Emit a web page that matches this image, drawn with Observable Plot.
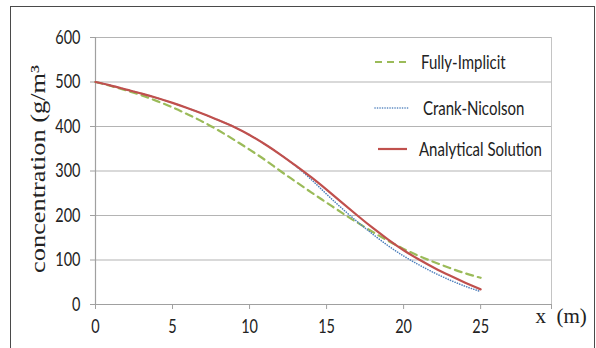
<!DOCTYPE html>
<html>
<head>
<meta charset="utf-8">
<script src="https://cdn.jsdelivr.net/npm/d3@7"></script>
<script src="https://cdn.jsdelivr.net/npm/@observablehq/plot@0.6"></script>
<style>
  html, body { margin: 0; padding: 0; background: #fff; overflow: hidden; width: 596px; height: 348px; }
  #wrap { position: relative; width: 596px; height: 348px; }
  #frame { position: absolute; left: 10px; top: 6px; width: 585px; height: 400px; box-sizing: border-box; border: 1.6px solid #4a4a4a; }
  #chart { position: absolute; left: 0; top: 0; }
</style>
</head>
<body>
<div id="wrap"><div id="frame"></div><div id="chart"></div></div>
<script>
const xs = [0,1,2,3,4,5,6,7,8,9,10,11,12,13,14,15,16,17,18,19,20,21,22,23,24,25];
const fullyImplicit = [500,491,481,470,457,443,427,410,391,370,348,325,300,276,252,229,206,184,163,143,125,109,95,82,70,60];
const crankNicolson = [500,492,483,474,464,453,441,428,414,399,381,360,337,311,281,248,216,186,158,132,109,89,71,55,41,29];
const analytical    = [500,492,483,474,464,453,441,428,414,399,381,360,337,312,286,258,229,200,172,146,122,101,82,65,49,34];
const seriesNames = ["Fully-Implicit", "Crank-Nicolson", "Analytical Solution"];
const xTicks = [0,5,10,15,20,25];
const yTicks = [0,100,200,300,400,500,600];
const yLabel = "concentration (g/m³";
const xLabel = "x  (m)";

const xMax = 29.6;
const stretch = 1.32;
const rows = (vals) => xs.map((x, i) => ({x, v: vals[i]}));
const sans = "Lato, 'Open Sans', sans-serif";
const serif = "'Liberation Serif', 'DejaVu Serif', serif";

const plot = Plot.plot({
  width: 596, height: 348,
  marginLeft: 95, marginRight: 45, marginTop: 37, marginBottom: 44,
  style: {fontFamily: sans, fontSize: "14.5px", color: "#222", background: "transparent", overflow: "visible"},
  x: {domain: [0, xMax]},
  y: {domain: [0, 600]},
  marks: [
    Plot.gridY(yTicks.filter(d => d > 0), {stroke: "#b4b4b4", strokeOpacity: 1, strokeWidth: 1.2}),
    Plot.ruleX([xMax], {y1: 0, y2: 600, stroke: "#c4c4c4", strokeWidth: 1}),
    Plot.ruleX([0], {y1: 0, y2: 600, stroke: "#a0a0a0", strokeWidth: 1.2}),
    Plot.ruleY([0], {x1: 0, x2: xMax, stroke: "#a0a0a0", strokeWidth: 1.2}),
    Plot.axisY(yTicks, {tickSize: 5, tickPadding: 10, stroke: "#a0a0a0", fill: "#222", label: null, fontSize: 14.5}),
    Plot.axisX([...xTicks, xMax], {tickSize: 5, tickPadding: 10, stroke: "#a0a0a0", fill: "#222", label: null, fontSize: 14.5,
      tickFormat: d => (d > 25 ? "" : d)}),
    Plot.line(rows(fullyImplicit), {x: "x", y: "v", stroke: "#9BBB59", strokeWidth: 2.2, strokeDasharray: "7,5", curve: "natural"}),
    Plot.line(rows(crankNicolson), {x: "x", y: "v", stroke: "#4F81BD", strokeWidth: 1.6, strokeDasharray: "0.1,2.4", strokeLinecap: "round", curve: "natural"}),
    Plot.line(rows(analytical), {x: "x", y: "v", stroke: "#C0504D", strokeWidth: 2.2, curve: "natural"}),
    Plot.text([yLabel], {frameAnchor: "left", textAnchor: "middle", dx: -58, dy: -2, rotate: -90, fontFamily: serif, fontSize: 22, fill: "#222"}),
    Plot.text([xLabel], {frameAnchor: "bottom-right", dx: -16, dy: 18, textAnchor: "start", fontFamily: serif, fontSize: 21, fill: "#222"})
  ]
});
document.getElementById("chart").appendChild(plot);

const svg = d3.select(plot);
// keep double space in x label
svg.selectAll("text").filter(function () { return this.textContent === xLabel; }).style("white-space", "pre");
// the reference's axis title is drawn longer than its font: stretch along the text
svg.selectAll("text").filter(function () { return this.textContent === yLabel; }).each(function () {
  const t = this.getAttribute("transform");
  if (t) this.setAttribute("transform", t + " scale(1.2,1)");
});

// tick labels of the reference are taller than wide: stretch them vertically
svg.selectAll('g[aria-label="x-axis tick label"] text, g[aria-label="y-axis tick label"] text').each(function () {
  const t = this.getAttribute("transform");
  if (t) this.setAttribute("transform", t + ` scale(1,${stretch})`);
});

// legend overlay inside the plot area
const legendStyles = [
  {stroke: "#9BBB59", dash: "7,5", width: 2.2, cap: "butt", x1: 375, x2: 410, tx: 421, y: 62},
  {stroke: "#4F81BD", dash: "0.1,2.4", width: 1.6, cap: "round", x1: 375, x2: 408, tx: 423, y: 108},
  {stroke: "#C0504D", dash: null, width: 2.2, cap: "butt", x1: 378, x2: 407, tx: 419, y: 149}
];
const lg = svg.append("g");
seriesNames.forEach((name, i) => {
  const s = legendStyles[i];
  lg.append("line").attr("x1", s.x1).attr("x2", s.x2).attr("y1", s.y).attr("y2", s.y)
    .attr("stroke", s.stroke).attr("stroke-width", s.width).attr("stroke-linecap", s.cap)
    .attr("stroke-dasharray", s.dash);
  lg.append("text").attr("transform", `translate(${s.tx},${s.y}) scale(1,${stretch})`)
    .attr("dy", "0.35em").attr("text-anchor", "start")
    .attr("font-family", sans).attr("font-size", 15).attr("fill", "#222").text(name);
});
</script>
</body>
</html>
